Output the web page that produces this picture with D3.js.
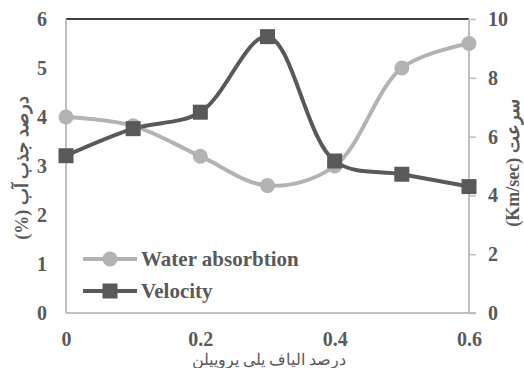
<!DOCTYPE html>
<html>
<head>
<meta charset="utf-8">
<script src="https://cdn.jsdelivr.net/npm/d3@7"></script>
<style>
  html, body { margin: 0; padding: 0; background: #fff; }
  svg { display: block; }
  text { font-family: "Liberation Serif", "Times New Roman", serif; }
</style>
</head>
<body>
<svg id="chart" width="524" height="368"></svg>
<script>
// Fibre content (fraction) on the x axis
const fibre = [0, 0.1, 0.2, 0.3, 0.4, 0.5, 0.6];
// Water absorption (%), left axis
const waterAbsorption = [4.0, 3.82, 3.2, 2.6, 3.0, 5.0, 5.5];
// Ultrasonic pulse velocity (Km/sec), right axis
const velocity = [5.35, 6.27, 6.83, 9.4, 5.17, 4.72, 4.3];

const xTicks = [0, 0.2, 0.4, 0.6];
const leftTicks = [0, 1, 2, 3, 4, 5, 6];
const rightTicks = [0, 2, 4, 6, 8, 10];

const seriesNames = ["Water absorbtion", "Velocity"];
const xTitle = "درصد الیاف پلی پروپیلن";
const leftTitle = "درصد جذب آب (%)";
const rightTitle = "سرعت (Km/sec)";

const light = "#b3b3b3";
const dark = "#595959";
const axisGrey = "#bfbfbf";
const labelColor = "#595959";

const svg = d3.select("#chart");
const plot = { left: 66, right: 469, top: 19, bottom: 313 };

const x = d3.scaleLinear().domain([0, 0.6]).range([plot.left, plot.right]);
const yL = d3.scaleLinear().domain([0, 6]).range([plot.bottom, plot.top]);
const yR = d3.scaleLinear().domain([0, 10]).range([plot.bottom, plot.top]);

// top border of the plot area
svg.append("line")
  .attr("x1", plot.left).attr("x2", plot.right)
  .attr("y1", plot.top).attr("y2", plot.top)
  .attr("stroke", "#000").attr("stroke-width", 1.5);

// left axis
const leftAxis = svg.append("g")
  .attr("transform", `translate(${plot.left},0)`)
  .call(d3.axisLeft(yL).tickValues(leftTicks).tickSize(0).tickPadding(19).tickFormat(d3.format("d")));

// bottom axis
const bottomAxis = svg.append("g")
  .attr("transform", `translate(0,${plot.bottom})`)
  .call(d3.axisBottom(x).tickValues(xTicks).tickSize(0).tickPadding(19).tickFormat(d => d === 0 ? "0" : d3.format(".1f")(d)));

// right axis with outward ticks
const rightAxis = svg.append("g")
  .attr("transform", `translate(${plot.right},0)`)
  .call(d3.axisRight(yR).tickValues(rightTicks).tickSize(7).tickPadding(12).tickFormat(d3.format("d")));

[leftAxis, bottomAxis, rightAxis].forEach(g => {
  g.select(".domain").attr("stroke", axisGrey).attr("stroke-width", 2);
  g.selectAll(".tick line").attr("stroke", axisGrey).attr("stroke-width", 1.5);
  g.selectAll(".tick text")
    .attr("fill", labelColor)
    .style("font-family", '"Liberation Serif", "Times New Roman", serif')
    .style("font-weight", "bold")
    .style("font-size", "20px");
});
rightAxis.select(".domain").attr("d", `M0,${plot.top}V${plot.bottom}`);
leftAxis.select(".domain").attr("d", `M0,${plot.top}V${plot.bottom}`);
bottomAxis.select(".domain").attr("d", `M${plot.left},0H${plot.right + 7}`);

// axis titles
svg.append("text")
  .attr("x", (plot.left + plot.right) / 2 + 1)
  .attr("y", 365)
  .attr("text-anchor", "middle")
  .attr("direction", "rtl")
  .attr("fill", labelColor)
  .style("font-size", "16px")
  .text(xTitle);

svg.append("text")
  .attr("transform", `translate(28,${(plot.top + plot.bottom) / 2 + 2}) rotate(-90)`)
  .attr("text-anchor", "middle")
  .attr("direction", "rtl")
  .attr("fill", labelColor)
  .style("font-size", "18px")
  .style("font-weight", "bold")
  .text(leftTitle);

svg.append("text")
  .attr("transform", `translate(519,${(plot.top + plot.bottom) / 2 - 3}) rotate(-90)`)
  .attr("text-anchor", "middle")
  .attr("direction", "rtl")
  .attr("fill", labelColor)
  .style("font-size", "18px")
  .style("font-weight", "bold")
  .text(rightTitle);

// smoothed lines
const curve = d3.curveCatmullRom.alpha(0.5);
const waterLine = d3.line().x((d, i) => x(fibre[i])).y(d => yL(d)).curve(curve);
const velLine = d3.line().x((d, i) => x(fibre[i])).y(d => yR(d)).curve(curve);

svg.append("path")
  .attr("d", waterLine(waterAbsorption))
  .attr("fill", "none").attr("stroke", light).attr("stroke-width", 4)
  .attr("stroke-linejoin", "round");

svg.append("path")
  .attr("d", velLine(velocity))
  .attr("fill", "none").attr("stroke", dark).attr("stroke-width", 4)
  .attr("stroke-linejoin", "round");

svg.selectAll("circle.water")
  .data(waterAbsorption)
  .join("circle")
  .attr("class", "water")
  .attr("cx", (d, i) => x(fibre[i]))
  .attr("cy", d => yL(d))
  .attr("r", 7.5)
  .attr("fill", light);

const sq = 15;
svg.selectAll("rect.vel")
  .data(velocity)
  .join("rect")
  .attr("class", "vel")
  .attr("x", (d, i) => x(fibre[i]) - sq / 2)
  .attr("y", d => yR(d) - sq / 2)
  .attr("width", sq).attr("height", sq)
  .attr("fill", dark);

// legend
const legend = svg.append("g");
const legendRows = [
  { name: seriesNames[0], color: light, marker: "circle", y: 259 },
  { name: seriesNames[1], color: dark, marker: "square", y: 291 }
];
legendRows.forEach(r => {
  legend.append("line")
    .attr("x1", 83).attr("x2", 137)
    .attr("y1", r.y).attr("y2", r.y)
    .attr("stroke", r.color).attr("stroke-width", 4);
  if (r.marker === "circle") {
    legend.append("circle").attr("cx", 110).attr("cy", r.y).attr("r", 7.5).attr("fill", r.color);
  } else {
    legend.append("rect").attr("x", 110 - sq / 2).attr("y", r.y - sq / 2)
      .attr("width", sq).attr("height", sq).attr("fill", r.color);
  }
  legend.append("text")
    .attr("x", 141).attr("y", r.y + 7)
    .attr("fill", labelColor)
    .style("font-weight", "bold")
    .style("font-size", "21px")
    .text(r.name);
});
</script>
</body>
</html>
